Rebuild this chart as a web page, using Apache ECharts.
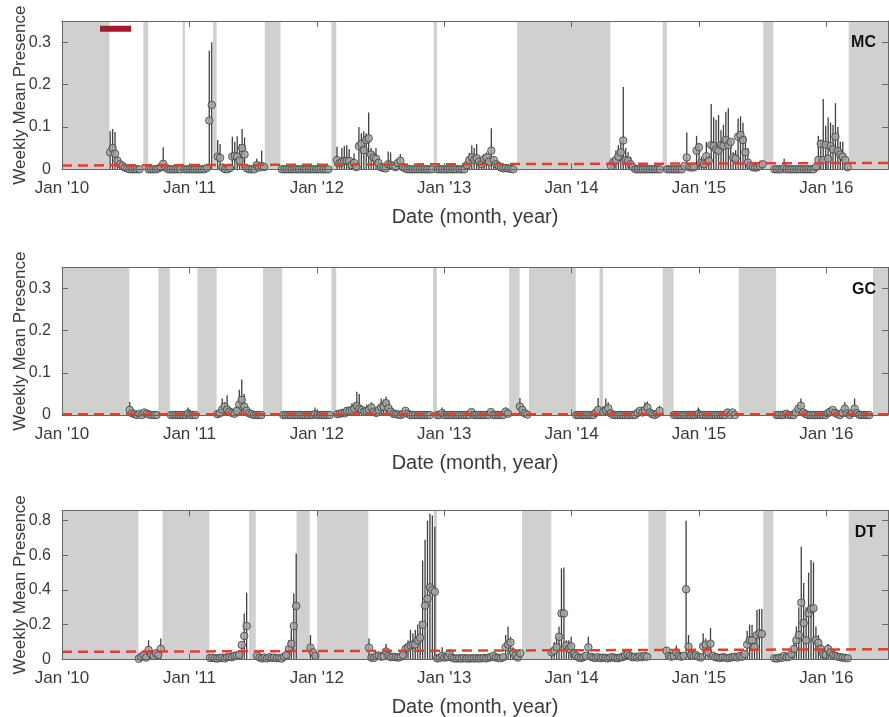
<!DOCTYPE html>
<html>
<head>
<meta charset="utf-8">
<script src="https://cdn.jsdelivr.net/npm/echarts@6/dist/echarts.min.js"></script>
<style>
  html, body { margin: 0; padding: 0; background: #ffffff; }
  #chart { width: 889px; height: 717px; }
</style>
</head>
<body>
<div id="chart"></div>
<script>
// ---------- axis ticks ----------
const xTickYears = [2010, 2011, 2012, 2013, 2014, 2015, 2016];
const xTickLabels = ["Jan '10", "Jan '11", "Jan '12", "Jan '13", "Jan '14", "Jan '15", "Jan '16"];
const xStart = '2010-01-01';
const xEnd = '2016-06-26';

// ---------- MC: weekly means and upper error bounds per recording period ----------
const mcStarts = ['2010-05-19', '2010-09-06', '2010-12-19', '2011-03-23', '2011-09-23',
                  '2012-02-28', '2012-12-13', '2014-04-24', '2014-10-02', '2015-08-05'];
const mcMean = [
  [0.04, 0.05, 0.037, 0.02, 0.012, 0.008, 0.004, 0.002, 0, 0, 0, 0, 0],
  [0, 0, 0, 0, 0.002, 0.005, 0.013, 0.004, 0, 0, 0, 0, 0, 0],
  [0, 0, 0, 0, 0, 0, 0, 0, 0, 0.003, 0.115, 0.152],
  [0.03, 0.027, 0.004, 0, 0, 0.003, 0.03, 0.032, 0.03, 0.02, 0.05, 0.035, 0.002, 0, 0, 0, 0.01, 0.004, 0.008, 0.005],
  [0, 0, 0, 0, 0, 0, 0, 0, 0, 0, 0, 0, 0, 0, 0, 0, 0, 0, 0, 0],
  [0.022, 0.014, 0.018, 0.02, 0.02, 0.02, 0.01, 0.015, 0.005, 0.055, 0.06, 0.045, 0.069, 0.073, 0.035, 0.028, 0.025, 0.015, 0.005, 0.003,
   0.002, 0.012, 0.01, 0.008, 0.005, 0.015, 0.02, 0.005, 0.002, 0, 0, 0, 0, 0, 0, 0, 0, 0, 0, 0],
  [0, 0, 0, 0, 0, 0, 0, 0, 0, 0, 0, 0, 0.01, 0.022, 0.028, 0.022, 0.026, 0.018, 0.012, 0.024,
   0.028, 0.018, 0.044, 0.022, 0.012, 0.008, 0.004, 0.002, 0.003, 0.002, 0.001, 0],
  [0.008, 0.018, 0.022, 0.03, 0.04, 0.068, 0.022, 0.02, 0.012, 0.005, 0, 0, 0, 0, 0, 0, 0, 0, 0, 0, 0],
  [0, 0, 0, 0, 0, 0, 0, 0.008, 0.028, 0.005, 0.004, 0.005, 0.044, 0.052, 0.015, 0.012, 0.031, 0.02, 0.057, 0.055,
   0.047, 0.044, 0.057, 0.055, 0.069, 0.057, 0.065, 0.028, 0.025, 0.077, 0.081, 0.069, 0.04, 0.016, 0.008, 0.005, 0.004, 0.005, 0.008, 0.012],
  [0, 0, 0, 0, 0.003, 0, 0, 0, 0, 0, 0, 0, 0, 0, 0, 0, 0, 0.005, 0.022, 0.06,
   0.022, 0.058, 0.025, 0.055, 0.047, 0.077, 0.043, 0.035, 0.03, 0.022, 0.005]
];
const mcUpper = [
  [0.09, 0.095, 0.088, 0.03, 0.02, 0.015, 0.008, 0.004, 0, 0, 0, 0, 0],
  [0, 0, 0, 0, 0.004, 0.01, 0.052, 0.008, 0, 0, 0, 0, 0, 0],
  [0, 0.004, 0, 0, 0, 0, 0, 0, 0, 0.01, 0.28, 0.3],
  [0.069, 0.06, 0.01, 0, 0, 0.01, 0.077, 0.065, 0.078, 0.06, 0.095, 0.075, 0.006, 0, 0, 0, 0.025, 0.012, 0.044, 0.012],
  [0, 0, 0, 0, 0, 0, 0, 0, 0, 0, 0, 0, 0, 0, 0, 0, 0, 0, 0, 0],
  [0.053, 0.02, 0.05, 0.055, 0.057, 0.048, 0.02, 0.038, 0.01, 0.1, 0.085, 0.09, 0.085, 0.134, 0.05, 0.04, 0.05, 0.025, 0.01, 0.006,
   0.004, 0.042, 0.04, 0.012, 0.01, 0.02, 0.036, 0.01, 0.004, 0, 0, 0, 0, 0, 0, 0, 0, 0, 0, 0],
  [0, 0, 0, 0, 0, 0, 0, 0, 0, 0, 0, 0, 0.015, 0.039, 0.057, 0.05, 0.06, 0.03, 0.02, 0.036,
   0.04, 0.025, 0.097, 0.03, 0.02, 0.012, 0.008, 0.004, 0.006, 0.004, 0.002, 0],
  [0.02, 0.025, 0.045, 0.057, 0.067, 0.194, 0.05, 0.04, 0.03, 0.01, 0, 0, 0, 0, 0, 0, 0, 0, 0, 0, 0],
  [0, 0, 0, 0, 0, 0, 0, 0.012, 0.087, 0.01, 0.006, 0.01, 0.079, 0.062, 0.03, 0.02, 0.065, 0.03, 0.154, 0.123,
   0.117, 0.128, 0.092, 0.105, 0.136, 0.144, 0.07, 0.04, 0.045, 0.12, 0.125, 0.11, 0.078, 0.05, 0.015, 0.008, 0.006, 0.008, 0.02, 0.02],
  [0, 0, 0, 0, 0.025, 0, 0, 0, 0, 0, 0, 0, 0, 0, 0, 0, 0, 0.01, 0.079, 0.07,
   0.166, 0.103, 0.122, 0.11, 0.105, 0.156, 0.1, 0.065, 0.065, 0.03, 0.008]
];
const mcGaps = [
  ['2010-01-01', '2010-05-17'], ['2010-08-22', '2010-09-05'], ['2010-12-13', '2010-12-19'],
  ['2011-03-10', '2011-03-20'], ['2011-08-05', '2011-09-19'], ['2012-02-12', '2012-02-26'],
  ['2012-12-02', '2012-12-11'], ['2013-07-29', '2014-04-22'], ['2014-09-19', '2014-10-01'],
  ['2015-07-04', '2015-08-02'], ['2016-03-05', '2016-07-01']
];
const mcThreshold = [0.009, 0.015];
const mcBar = ['2010-04-20', '2010-07-18'];
const mcBarLevel = 0.332;

// ---------- GC ----------
const gcStarts = ['2010-07-14', '2010-11-09', '2011-03-22', '2011-09-27', '2012-02-29', '2012-12-12',
                  '2013-08-06', '2014-01-14', '2014-04-02', '2014-10-21', '2015-08-11'];
const gcMean = [
  [0.012, 0.004, 0.002, 0, 0.003, 0, 0.006, 0.003, 0.001, 0, 0, 0],
  [0, 0, 0, 0, 0, 0, 0, 0.003, 0, 0, 0],
  [0.002, 0.004, 0.013, 0.02, 0.013, 0.008, 0.005, 0.003, 0.01, 0.025, 0.036, 0.02, 0.01, 0.004, 0.002, 0, 0, 0, 0],
  [0, 0, 0, 0, 0, 0, 0, 0, 0, 0, 0, 0, 0, 0.002, 0, 0, 0, 0, 0, 0],
  [0.002, 0.003, 0.005, 0.004, 0.01, 0.01, 0.012, 0.015, 0.021, 0.015, 0.012, 0.008, 0.01, 0.013, 0.018, 0.008, 0.005, 0.012, 0.018, 0.02,
   0.028, 0.016, 0.008, 0.003, 0.002, 0.001, 0, 0.003, 0.01, 0.003, 0, 0, 0, 0, 0, 0, 0, 0, 0],
  [0, 0, 0.004, 0, 0, 0, 0, 0, 0, 0, 0, 0, 0, 0, 0.007, 0, 0, 0, 0, 0, 0, 0, 0.007, 0, 0, 0, 0, 0, 0.008, 0.003],
  [0.02, 0.012, 0.004, 0.001],
  [0, 0, 0, 0, 0, 0, 0, 0, 0.005, 0.012],
  [0.008, 0.012, 0.016, 0.004, 0, 0, 0, 0, 0, 0, 0, 0, 0, 0, 0.005, 0.01, 0.006, 0.012, 0.018, 0.006, 0.002, 0, 0.003, 0.01],
  [0, 0, 0, 0, 0, 0, 0, 0, 0, 0, 0.002, 0, 0, 0, 0, 0, 0, 0, 0, 0, 0, 0, 0.006, 0, 0.006, 0],
  [0, 0, 0, 0, 0.003, 0, 0, 0, 0.006, 0.015, 0.022, 0.006, 0.002, 0, 0, 0, 0, 0, 0, 0,
   0, 0.004, 0.008, 0.012, 0.005, 0.002, 0, 0.005, 0.015, 0.004, 0, 0.005, 0.015, 0.004, 0, 0, 0, 0, 0]
];
const gcUpper = [
  [0.031, 0.008, 0.004, 0, 0.008, 0, 0.012, 0.006, 0.002, 0, 0, 0],
  [0, 0, 0, 0, 0, 0, 0, 0.018, 0, 0, 0],
  [0.004, 0.008, 0.039, 0.03, 0.047, 0.015, 0.01, 0.006, 0.02, 0.06, 0.084, 0.05, 0.02, 0.008, 0.004, 0, 0, 0, 0],
  [0, 0, 0, 0, 0, 0, 0, 0, 0, 0, 0, 0, 0, 0.018, 0, 0, 0, 0, 0, 0],
  [0.004, 0.006, 0.012, 0.008, 0.018, 0.015, 0.028, 0.03, 0.055, 0.05, 0.02, 0.015, 0.025, 0.02, 0.03, 0.012, 0.01, 0.025, 0.039, 0.037,
   0.043, 0.034, 0.015, 0.006, 0.004, 0.002, 0, 0.008, 0.015, 0.006, 0, 0, 0, 0, 0, 0, 0, 0, 0],
  [0, 0, 0.018, 0, 0, 0, 0, 0, 0, 0, 0, 0, 0, 0, 0.012, 0, 0, 0, 0, 0, 0, 0, 0.012, 0, 0, 0, 0, 0, 0.018, 0.006],
  [0.04, 0.02, 0.008, 0.002],
  [0, 0, 0, 0, 0, 0, 0, 0, 0.01, 0.04],
  [0.02, 0.039, 0.03, 0.008, 0, 0, 0, 0, 0, 0, 0, 0, 0, 0, 0.01, 0.015, 0.01, 0.03, 0.032, 0.01, 0.004, 0, 0.006, 0.022],
  [0, 0, 0, 0, 0, 0, 0, 0, 0, 0, 0.018, 0, 0, 0, 0, 0, 0, 0, 0, 0, 0, 0, 0.014, 0, 0.01, 0],
  [0, 0, 0, 0, 0.006, 0, 0, 0, 0.01, 0.02, 0.039, 0.012, 0.004, 0, 0, 0, 0, 0, 0, 0,
   0, 0.008, 0.018, 0.016, 0.01, 0.004, 0, 0.01, 0.031, 0.008, 0, 0.01, 0.039, 0.008, 0, 0, 0, 0, 0]
];
const gcGaps = [
  ['2010-01-01', '2010-07-13'], ['2010-10-04', '2010-11-06'], ['2011-01-24', '2011-03-20'],
  ['2011-07-31', '2011-09-24'], ['2012-02-12', '2012-02-26'], ['2012-11-30', '2012-12-11'],
  ['2013-07-06', '2013-08-05'], ['2013-09-01', '2014-01-13'], ['2014-03-22', '2014-04-01'],
  ['2014-09-19', '2014-10-20'], ['2015-04-25', '2015-08-10'], ['2016-05-14', '2016-07-01']
];
const gcThreshold = [0.002, 0.002];

// ---------- DT ----------
const dtStarts = ['2010-08-09', '2011-03-01', '2011-07-14', '2011-12-14', '2012-05-30',
                  '2012-12-12', '2013-11-05', '2014-09-30', '2015-08-05'];
const dtMean = [
  [0.003, 0.015, 0.025, 0.01, 0.054, 0.03, 0.02, 0.035, 0.025, 0.06],
  [0.008, 0.01, 0.006, 0.004, 0.008, 0.01, 0.005, 0.012, 0.015, 0.012, 0.02, 0.022, 0.025, 0.083, 0.135, 0.192],
  [0.02, 0.01, 0.005, 0.01, 0.005, 0.012, 0.008, 0.01, 0.006, 0.008, 0.004, 0.015, 0.025, 0.058, 0.09, 0.192, 0.308],
  [0.067, 0.04, 0.02],
  [0.067, 0.01, 0.008, 0.02, 0.022, 0.015, 0.018, 0.045, 0.02, 0.012, 0.015, 0.012, 0.01, 0.015, 0.025, 0.06, 0.069, 0.08, 0.085, 0.085,
   0.11, 0.125, 0.2, 0.31, 0.35, 0.415, 0.4, 0.39],
  [0.005, 0.008, 0.02, 0.01, 0.012, 0.035, 0.01, 0.005, 0.004, 0.006, 0.004, 0.008, 0.005, 0.004, 0.006, 0.005, 0.007, 0.004, 0.006, 0.008,
   0.005, 0.01, 0.012, 0.02, 0.01, 0.008, 0.006, 0.012, 0.07, 0.085, 0.097, 0.04, 0.02, 0.01, 0.035],
  [0.04, 0.05, 0.07, 0.13, 0.265, 0.265, 0.08, 0.06, 0.075, 0.03, 0.02, 0.01, 0.008, 0.012, 0.02, 0.069, 0.015, 0.01, 0.008, 0.012,
   0.006, 0.01, 0.008, 0.005, 0.01, 0.012, 0.008, 0.006, 0.01, 0.012, 0.025, 0.03, 0.02, 0.012, 0.015, 0.01, 0.018, 0.012, 0.02, 0.015],
  [0.05, 0.02, 0.015, 0.02, 0.04, 0.02, 0.015, 0.02, 0.404, 0.073, 0.025, 0.02, 0.025, 0.015, 0.01, 0.075, 0.085, 0.04, 0.09, 0.02,
   0.012, 0.01, 0.008, 0.012, 0.01, 0.006, 0.01, 0.012, 0.015, 0.01, 0.02, 0.015, 0.03, 0.085, 0.11, 0.11, 0.07, 0.14, 0.15, 0.146],
  [0.006, 0.004, 0.01, 0.008, 0.02, 0.012, 0.015, 0.03, 0.06, 0.11, 0.14, 0.327, 0.21, 0.11, 0.265, 0.29, 0.295, 0.11, 0.095, 0.06,
   0.03, 0.025, 0.06, 0.04, 0.025, 0.02, 0.015, 0.012, 0.01, 0.008, 0.006]
];
const dtUpper = [
  [0.006, 0.03, 0.04, 0.02, 0.11, 0.05, 0.03, 0.05, 0.035, 0.12],
  [0.012, 0.015, 0.01, 0.008, 0.012, 0.018, 0.01, 0.02, 0.03, 0.025, 0.03, 0.03, 0.04, 0.1, 0.265, 0.384],
  [0.03, 0.018, 0.01, 0.015, 0.01, 0.02, 0.012, 0.015, 0.01, 0.015, 0.008, 0.025, 0.04, 0.11, 0.17, 0.38, 0.61],
  [0.14, 0.065, 0.04],
  [0.12, 0.02, 0.015, 0.04, 0.035, 0.025, 0.03, 0.09, 0.04, 0.02, 0.025, 0.02, 0.018, 0.025, 0.05, 0.09, 0.11, 0.17, 0.15, 0.17,
   0.2, 0.22, 0.57, 0.69, 0.8, 0.84, 0.83, 0.765],
  [0.01, 0.015, 0.07, 0.02, 0.02, 0.05, 0.02, 0.01, 0.008, 0.01, 0.008, 0.012, 0.01, 0.008, 0.01, 0.01, 0.012, 0.008, 0.01, 0.012,
   0.01, 0.015, 0.02, 0.03, 0.015, 0.012, 0.01, 0.02, 0.14, 0.19, 0.13, 0.07, 0.03, 0.015, 0.05],
  [0.06, 0.1, 0.13, 0.19, 0.525, 0.53, 0.11, 0.11, 0.13, 0.05, 0.03, 0.015, 0.012, 0.02, 0.03, 0.13, 0.025, 0.015, 0.012, 0.02,
   0.01, 0.015, 0.012, 0.01, 0.015, 0.02, 0.012, 0.01, 0.015, 0.02, 0.04, 0.05, 0.03, 0.02, 0.025, 0.015, 0.03, 0.02, 0.03, 0.025],
  [0.07, 0.03, 0.025, 0.03, 0.08, 0.03, 0.025, 0.03, 0.8, 0.14, 0.04, 0.03, 0.04, 0.025, 0.015, 0.15, 0.12, 0.07, 0.18, 0.03,
   0.02, 0.015, 0.012, 0.02, 0.015, 0.01, 0.015, 0.02, 0.025, 0.015, 0.03, 0.025, 0.05, 0.165, 0.2, 0.2, 0.1, 0.285, 0.29, 0.29],
  [0.01, 0.008, 0.015, 0.012, 0.03, 0.02, 0.025, 0.05, 0.1, 0.19, 0.3, 0.65, 0.44, 0.3, 0.5, 0.573, 0.56, 0.19, 0.14, 0.09,
   0.05, 0.04, 0.09, 0.06, 0.04, 0.03, 0.02, 0.018, 0.015, 0.012, 0.01]
];
const dtGaps = [
  ['2010-01-01', '2010-08-08'], ['2010-10-16', '2011-02-27'], ['2011-06-21', '2011-07-10'],
  ['2011-11-04', '2011-12-12'], ['2012-01-02', '2012-05-28'], ['2012-12-02', '2012-12-11'],
  ['2013-08-12', '2013-11-04'], ['2014-08-09', '2014-09-29'], ['2015-07-04', '2015-08-02'],
  ['2016-03-05', '2016-07-01']
];
const dtThreshold = [0.043, 0.058];

// ---------- helpers ----------
const DAY = 86400000;
function yearOf(t) {
  const y = new Date(t).getUTCFullYear();
  const a = Date.UTC(y, 0, 1), b = Date.UTC(y + 1, 0, 1);
  return y + (t - a) / (b - a);
}
function parseDay(s) { return Date.parse(s + 'T00:00:00Z'); }
function yearOfDate(s) { return yearOf(parseDay(s)); }

// one row per week: [decimal year, mean, upper bound]
function weeklyRows(starts, means, uppers) {
  const rows = [];
  starts.forEach((s, k) => {
    const t0 = parseDay(s);
    means[k].forEach((m, i) => rows.push([yearOf(t0 + i * 7 * DAY), m, uppers[k][i]]));
  });
  return rows;
}

const xMin = yearOfDate(xStart);
const xMax = yearOfDate(xEnd);

const FONT = "'Liberation Sans', Arial, Helvetica, sans-serif";
const TEXT = '#3a3a3a';
const AXIS = '#666666';
const GAP_FILL = '#d0d0d0';

const panels = [
  { name: 'MC', starts: mcStarts, mean: mcMean, upper: mcUpper, gaps: mcGaps, thr: mcThreshold,
    yMax: 0.35, yStep: 0.1, top: 21, height: 148.3, labelY: 43 },
  { name: 'GC', starts: gcStarts, mean: gcMean, upper: gcUpper, gaps: gcGaps, thr: gcThreshold,
    yMax: 0.35, yStep: 0.1, top: 267.3, height: 147.7, labelY: 290 },
  { name: 'DT', starts: dtStarts, mean: dtMean, upper: dtUpper, gaps: dtGaps, thr: dtThreshold,
    yMax: 0.86, yStep: 0.2, top: 510.3, height: 149, labelY: 533 }
];

const grid = [], xAxis = [], yAxis = [], series = [], graphic = [];

panels.forEach((p, k) => {
  grid.push({ left: 62, right: 1, top: p.top, height: p.height,
              containLabel: false, outerBoundsMode: 'none' });

  const xLabel = v => {
    const i = xTickYears.indexOf(Math.round(v));
    return (Math.abs(v - Math.round(v)) < 1e-6 && i >= 0) ? xTickLabels[i] : '';
  };
  const xBase = {
    type: 'value', gridIndex: k, min: xMin, max: xMax, interval: 1, z: 6,
    axisLine: { show: true, onZero: false, lineStyle: { color: AXIS, width: 1 } },
    axisTick: { show: true, inside: true, length: 6, lineStyle: { color: AXIS } },
    splitLine: { show: false }
  };
  xAxis.push(Object.assign({}, xBase, {
    position: 'bottom',
    axisLabel: { show: true, formatter: xLabel, color: TEXT, fontSize: 17, fontFamily: FONT, margin: 11,
                 showMaxLabel: false },
    name: 'Date (month, year)', nameLocation: 'middle', nameGap: 38, nameMoveOverlap: false,
    nameTextStyle: { color: TEXT, fontSize: 20, fontFamily: FONT }
  }));
  xAxis.push(Object.assign({}, xBase, { position: 'top', axisLabel: { show: false } }));

  const yLabel = v => {
    const r = Math.round(v / p.yStep);
    if (Math.abs(v - r * p.yStep) > 1e-6) return '';
    return r === 0 ? '0' : (r * p.yStep).toFixed(1);
  };
  const yBase = {
    type: 'value', gridIndex: k, min: 0, max: p.yMax, interval: p.yStep, z: 6,
    axisLine: { show: true, onZero: false, lineStyle: { color: AXIS, width: 1 } },
    axisTick: { show: true, inside: true, length: 6, lineStyle: { color: AXIS } },
    splitLine: { show: false }
  };
  yAxis.push(Object.assign({}, yBase, {
    position: 'left',
    axisLabel: { show: true, formatter: yLabel, color: TEXT, fontSize: 16, fontFamily: FONT, margin: 11,
                 showMaxLabel: false },
    name: 'Weekly Mean Presence', nameLocation: 'middle', nameGap: 33, nameRotate: 90, nameMoveOverlap: false,
    nameTextStyle: { color: TEXT, fontSize: 17, fontFamily: FONT }
  }));
  yAxis.push(Object.assign({}, yBase, { position: 'right', axisLabel: { show: false } }));

  // unrecorded periods
  series.push({
    type: 'custom', xAxisIndex: 2 * k, yAxisIndex: 2 * k, z: 1, silent: true,
    data: p.gaps.map(g => [yearOfDate(g[0]), yearOfDate(g[1])]),
    encode: { x: [0, 1] },
    renderItem: (params, api) => {
      const a = api.coord([api.value(0), p.yMax]);
      const b = api.coord([api.value(1), 0]);
      const cs = params.coordSys;
      const r = echarts.graphic.clipRectByRect(
        { x: a[0], y: a[1], width: b[0] - a[0], height: b[1] - a[1] },
        { x: cs.x, y: cs.y, width: cs.width, height: cs.height });
      return r ? { type: 'rect', shape: r, style: { fill: GAP_FILL } } : null;
    }
  });

  const rows = weeklyRows(p.starts, p.mean, p.upper);

  // error bars from zero to the upper bound
  series.push({
    type: 'custom', xAxisIndex: 2 * k, yAxisIndex: 2 * k, z: 2, silent: true,
    data: rows.map(r => [r[0], r[2]]),
    encode: { x: 0, y: 1 },
    renderItem: (params, api) => {
      const a = api.coord([api.value(0), 0]);
      const b = api.coord([api.value(0), api.value(1)]);
      return { type: 'line', shape: { x1: a[0], y1: a[1], x2: b[0], y2: b[1] },
               style: { stroke: '#3f3f3f', lineWidth: 1.3 } };
    }
  });

  // weekly means
  series.push({
    type: 'scatter', xAxisIndex: 2 * k, yAxisIndex: 2 * k, z: 3, clip: false, silent: true,
    data: rows.map(r => [r[0], r[1]]),
    symbol: 'circle', symbolSize: 7.5,
    itemStyle: { color: '#a2a2a2', borderColor: '#3d3d3d', borderWidth: 1 }
  });

  // detection threshold
  series.push({
    type: 'line', xAxisIndex: 2 * k, yAxisIndex: 2 * k, z: 4, silent: true,
    data: [[xMin, p.thr[0]], [xMax, p.thr[1]]],
    symbol: 'none',
    lineStyle: { color: '#e2402a', width: 2.5, type: [10, 6] }
  });

  graphic.push({
    type: 'text', x: 876, y: p.labelY, z: 10,
    style: { text: p.name, font: 'bold 16px ' + FONT, fill: '#111111',
             align: 'right', verticalAlign: 'middle', textAlign: 'right', textVerticalAlign: 'middle' }
  });
});

// study-period marker in the MC panel
series.push({
  type: 'line', xAxisIndex: 0, yAxisIndex: 0, z: 5, silent: true,
  data: [[yearOfDate(mcBar[0]), mcBarLevel], [yearOfDate(mcBar[1]), mcBarLevel]],
  symbol: 'none',
  lineStyle: { color: '#a31a2c', width: 6, cap: 'butt' }
});

const chart = echarts.init(document.getElementById('chart'), null, { renderer: 'canvas' });
chart.setOption({
  animation: false,
  backgroundColor: '#ffffff',
  grid, xAxis, yAxis, series, graphic
});
</script>
</body>
</html>
